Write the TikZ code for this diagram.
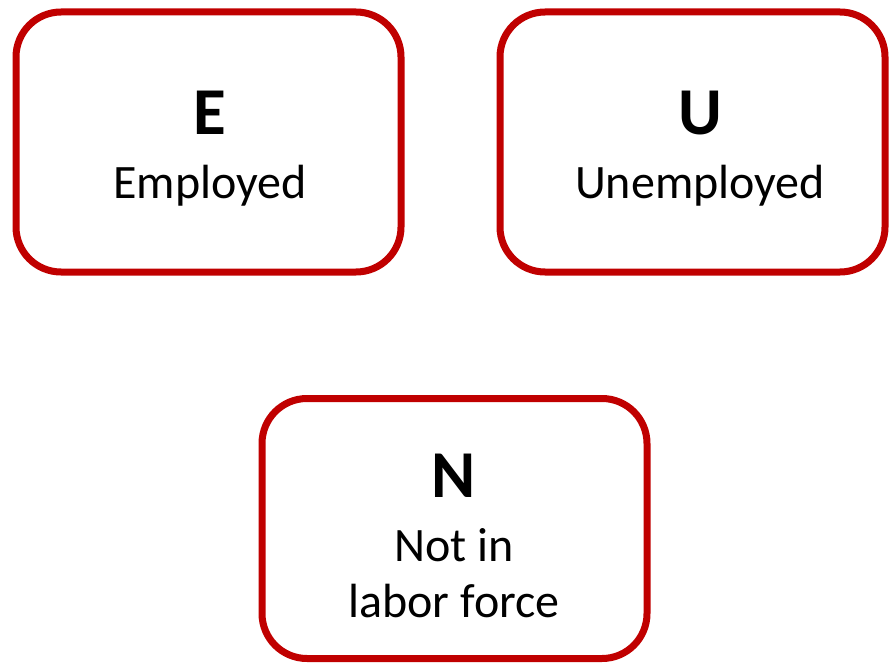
\documentclass[tikz,border=0pt]{standalone}
\usepackage{fontspec}
\setmainfont{Carlito}
\definecolor{boxred}{RGB}{192,0,0}
\begin{document}
\begin{tikzpicture}[x=1pt,y=-1pt,
  statebox/.style={draw=boxred,line width=7pt,rounded corners=45pt,minimum width=385pt,minimum height=260pt,inner sep=0pt},
  letter/.style={font=\fontsize{67}{70}\selectfont\bfseries,anchor=base,inner sep=0pt},
  label/.style={font=\fontsize{48}{56}\selectfont,anchor=base,inner sep=0pt}]
\useasboundingbox (0,0) rectangle (889,663);
\node[statebox] (E) at (208.5,142) {};
\node[statebox] (U) at (692.5,142) {};
\node[statebox] (N) at (454.5,528.5) {};
\node[letter] (Et) at (210,135) {E};
\node[label] (El) at (210,199) {Employed};
\node[letter] (Ut) at (700,135) {U};
\node[label] (Ul) at (700,199) {Unemployed};
\node[letter] (Nt) at (454,497) {N};
\node[label] (Nl1) at (454,561) {Not in};
\node[label] (Nl2) at (454,617) {labor force};
\end{tikzpicture}
\end{document}
